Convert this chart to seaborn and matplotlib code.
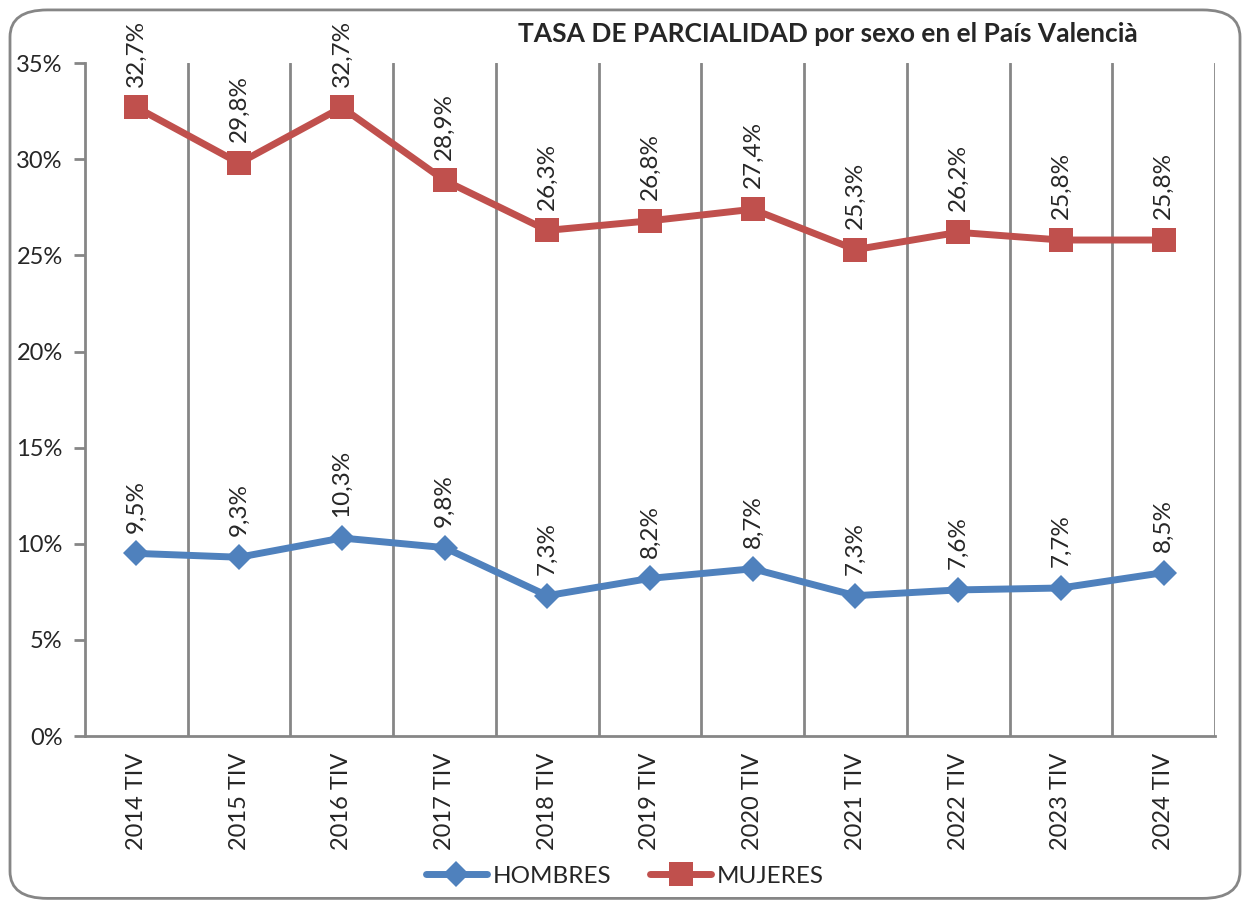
import matplotlib
matplotlib.use("Agg")

import matplotlib.pyplot as plt
import seaborn as sns
import pandas as pd
from matplotlib.patches import FancyBboxPatch

# datos
periodos = ["2014 TIV", "2015 TIV", "2016 TIV", "2017 TIV", "2018 TIV", "2019 TIV",
            "2020 TIV", "2021 TIV", "2022 TIV", "2023 TIV", "2024 TIV"]
hombres = [9.5, 9.3, 10.3, 9.8, 7.3, 8.2, 8.7, 7.3, 7.6, 7.7, 8.5]
mujeres = [32.7, 29.8, 32.7, 28.9, 26.3, 26.8, 27.4, 25.3, 26.2, 25.8, 25.8]

AZUL = "#4F81BD"
ROJO = "#C0504D"
GRIS = "#868686"

sns.set_theme(style="white")
plt.rcParams["font.family"] = ["Lato", "DejaVu Sans"]

df = pd.DataFrame({"periodo": list(range(len(periodos))) * 2,
                   "tasa": hombres + mujeres,
                   "sexo": ["HOMBRES"] * len(hombres) + ["MUJERES"] * len(mujeres)})

fig = plt.figure(figsize=(12.5, 9.02), dpi=100)
ax = fig.add_axes([0.068, 0.184, 0.904, 0.746])

sns.lineplot(data=df[df.sexo == "HOMBRES"], x="periodo", y="tasa", ax=ax,
             color=AZUL, lw=5, marker="D", markersize=13, markeredgewidth=0,
             label="HOMBRES")
sns.lineplot(data=df[df.sexo == "MUJERES"], x="periodo", y="tasa", ax=ax,
             color=ROJO, lw=5, marker="s", markersize=17, markeredgewidth=0,
             label="MUJERES")

ax.set_xlim(-0.5, len(periodos) - 0.5)
ax.set_ylim(0, 35)
ax.set_yticks(range(0, 36, 5))
ax.set_yticklabels([f"{v}%" for v in range(0, 36, 5)], fontsize=17)
ax.set_xticks(range(len(periodos)))
ax.set_xticklabels(periodos, rotation=90, fontsize=17)
ax.set_xticks([i - 0.5 for i in range(len(periodos) + 1)], minor=True)
ax.tick_params(axis="x", which="major", length=0, pad=12)
ax.tick_params(axis="x", which="minor", length=8, width=2, color=GRIS, direction="out")
ax.tick_params(axis="y", length=8, width=2, color=GRIS, direction="out", pad=8, left=True)
ax.set_xlabel("")
ax.set_ylabel("")

for b in [i - 0.5 for i in range(1, len(periodos) + 1)]:
    ax.axvline(b, color=GRIS, lw=2, zorder=0)

for s in ["top", "right"]:
    ax.spines[s].set_visible(False)
for s in ["left", "bottom"]:
    ax.spines[s].set_color(GRIS)
    ax.spines[s].set_linewidth(2)

for serie in [hombres, mujeres]:
    for i, v in enumerate(serie):
        ax.annotate(f"{v:.1f}%".replace(".", ","), (i, v), xytext=(0, 15),
                    textcoords="offset points", rotation=90, ha="center",
                    va="bottom", fontsize=17.5)

ax.legend(loc="upper center", bbox_to_anchor=(0.478, -0.16), ncol=2, frameon=False,
          fontsize=17.5, handlelength=2.5, columnspacing=1.6, handletextpad=0.25)

fig.text(0.662, 0.962, "TASA DE PARCIALIDAD por sexo en el País Valencià",
         ha="center", va="center", fontsize=19, fontweight="bold")

borde = FancyBboxPatch((0.008, 0.004), 0.984, 0.985, boxstyle="round,pad=0,rounding_size=0.03",
                       transform=fig.transFigure, fill=False, edgecolor=GRIS, lw=2)
fig.patches.append(borde)

fig.savefig("out.png", dpi=100)
